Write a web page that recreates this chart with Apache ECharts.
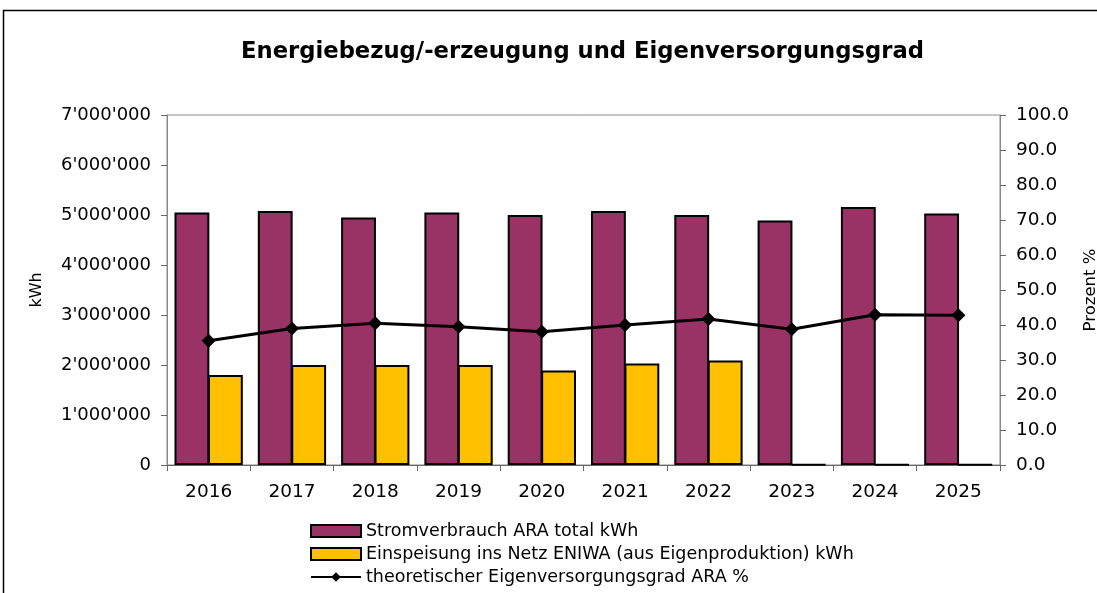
<!DOCTYPE html>
<html lang="de">
<head>
    <meta charset="UTF-8"/>
    <title>Energiebezug und Eigenversorgungsgrad</title>
    <script src="https://cdn.jsdelivr.net/npm/echarts@6/dist/echarts.min.js"></script>
    <style>
        html, body { margin: 0; padding: 0; background: #fff; }
        #main { width: 1097px; height: 593px; }
    </style>
</head>
<body>
<div id="main"></div>
<script type="text/javascript">
    var years = ['2016', '2017', '2018', '2019', '2020', '2021', '2022', '2023', '2024', '2025'];
    var verbrauch = [5050000, 5080000, 4950000, 5050000, 5000000, 5080000, 5000000, 4890000, 5160000, 5030000];
    var einspeisung = [1800000, 2000000, 2000000, 2000000, 1890000, 2030000, 2090000, 10000, 10000, 10000];
    var eigenversorgung = [35.5, 39.0, 40.5, 39.5, 38.1, 40.0, 41.7, 38.8, 42.9, 42.8];

    // reference looks horizontally stretched, DejaVu is wider than Arial
    var font = 'DejaVu Sans, Arial, sans-serif';

    function swiss(v) {
        return String(v).replace(/\B(?=(\d{3})+(?!\d))/g, "'");
    }

    var myChart = echarts.init(document.getElementById('main'));

    var option = {
        animation: false,
        backgroundColor: '#fff',
        title: {
            text: 'Energiebezug/-erzeugung und Eigenversorgungsgrad',
            left: 236,
            top: 36,
            textStyle: { fontFamily: font, fontSize: 22.7, fontWeight: 'bold', color: '#000' }
        },
        graphic: [{
            type: 'rect',
            shape: { x: 3.5, y: 10.5, width: 1200, height: 700 },
            style: { fill: 'none', stroke: '#000', lineWidth: 1.5 },
            silent: true
        }],
        legend: {
            orient: 'vertical',
            left: 305,
            top: 517,
            itemGap: 5,
            itemWidth: 50,
            itemHeight: 12,
            textStyle: { fontFamily: font, fontSize: 17.5, color: '#000' },
            data: [
                { name: 'Stromverbrauch ARA total kWh', icon: 'rect' },
                { name: 'Einspeisung ins Netz ENIWA (aus Eigenproduktion) kWh', icon: 'rect' },
                { name: 'theoretischer Eigenversorgungsgrad ARA %' }
            ]
        },
        grid: {
            left: 167,
            right: 97,
            top: 115,
            bottom: 128,
            outerBoundsMode: 'none',
            containLabel: false,
            show: true,
            borderColor: '#888',
            borderWidth: 1
        },
        xAxis: {
            type: 'category',
            data: years,
            axisLine: { lineStyle: { color: '#666', width: 1 } },
            axisTick: { show: true, length: 6, lineStyle: { color: '#666' } },
            axisLabel: { fontFamily: font, fontSize: 18.5, color: '#000', margin: 18 }
        },
        yAxis: [{
            type: 'value',
            min: 0,
            max: 7000000,
            interval: 1000000,
            name: 'kWh',
            nameLocation: 'middle',
            nameGap: 122,
            nameRotate: 90,
            nameTextStyle: { fontFamily: font, fontSize: 16, color: '#000' },
            splitLine: { show: false },
            axisLine: { show: true, lineStyle: { color: '#888' } },
            axisTick: { show: true, length: 6, lineStyle: { color: '#666' } },
            axisLabel: { fontFamily: font, fontSize: 18, color: '#000', margin: 16, formatter: swiss }
        }, {
            type: 'value',
            min: 0,
            max: 100,
            interval: 10,
            position: 'right',
            name: 'Prozent %',
            nameLocation: 'middle',
            nameGap: 82,
            nameRotate: 90,
            nameTextStyle: { fontFamily: font, fontSize: 16.5, color: '#000' },
            splitLine: { show: false },
            axisLine: { show: true, lineStyle: { color: '#888' } },
            axisTick: { show: true, length: 6, lineStyle: { color: '#666' } },
            axisLabel: {
                fontFamily: font, fontSize: 18.5, color: '#000', margin: 16,
                formatter: function (v) { return v.toFixed(1); }
            }
        }],
        series: [{
            name: 'Stromverbrauch ARA total kWh',
            type: 'bar',
            data: verbrauch,
            barGap: '-4%',
            barCategoryGap: '18%',
            itemStyle: { color: '#993366', borderColor: '#000', borderWidth: 2 }
        }, {
            name: 'Einspeisung ins Netz ENIWA (aus Eigenproduktion) kWh',
            type: 'bar',
            data: einspeisung,
            itemStyle: { color: '#FFC000', borderColor: '#000', borderWidth: 2 }
        }, {
            name: 'theoretischer Eigenversorgungsgrad ARA %',
            type: 'line',
            yAxisIndex: 1,
            data: eigenversorgung,
            symbol: 'diamond',
            symbolSize: 14,
            lineStyle: { color: '#000', width: 3 },
            itemStyle: { color: '#000' }
        }]
    };

    myChart.setOption(option);
</script>
</body>
</html>
